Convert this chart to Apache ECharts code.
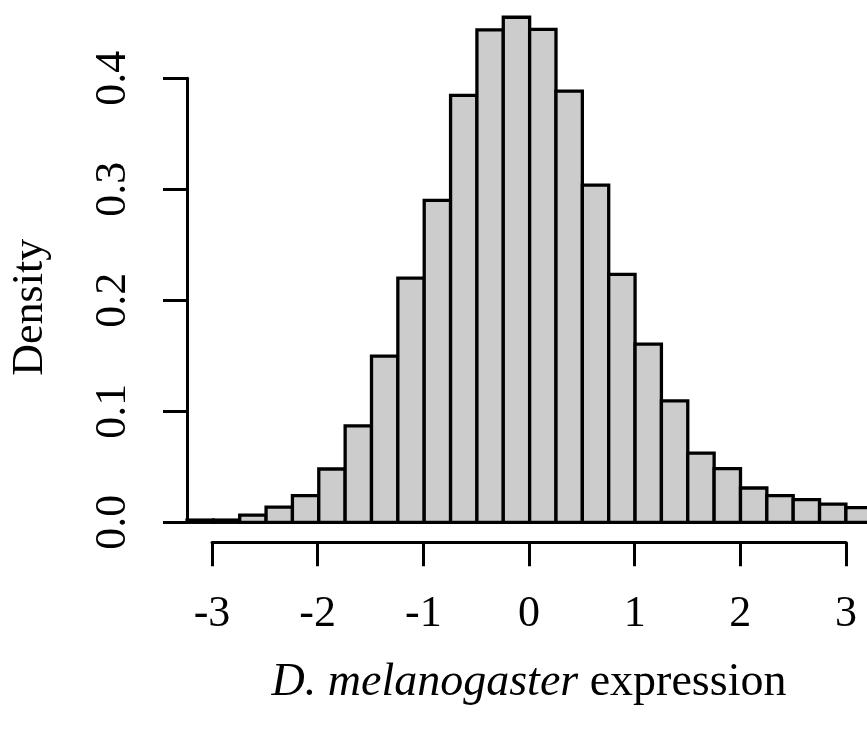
<!DOCTYPE html>
<html>
<head>
<meta charset="utf-8">
<script src="https://cdn.jsdelivr.net/npm/echarts@6/dist/echarts.min.js"></script>
<style>
html,body{margin:0;padding:0;background:#fff;}
#chart{width:867px;height:733px;}
</style>
</head>
<body>
<div id="chart"></div>
<script>
// Histogram bins (left and right edges) and densities
const binLeft  = [-3.25,-3.0,-2.75,-2.5,-2.25,-2.0,-1.75,-1.5,-1.25,-1.0,-0.75,-0.5,-0.25,0.0,0.25,0.5,0.75,1.0,1.25,1.5,1.75,2.0,2.25,2.5,2.75,3.0];
const binRight = [-3.0,-2.75,-2.5,-2.25,-2.0,-1.75,-1.5,-1.25,-1.0,-0.75,-0.5,-0.25,0.0,0.25,0.5,0.75,1.0,1.25,1.5,1.75,2.0,2.25,2.5,2.75,3.0,3.25];
const density  = [0.002,0.002,0.0065,0.0136,0.0241,0.048,0.0868,0.1497,0.220,0.290,0.3847,0.4436,0.455,0.444,0.3884,0.3038,0.2234,0.1605,0.1094,0.0623,0.0483,0.0309,0.0241,0.0204,0.0164,0.0132];
const xTicks = ['-3','-2','-1','0','1','2','3'];
const yTicks = ['0.0','0.1','0.2','0.3','0.4'];
const xTitleItalic = 'D. melanogaster';
const xTitleRest = ' expression';
const yTitle = 'Density';

const FONT = 'Liberation Serif';
const FS = 44;

const data = binLeft.map((l, i) => [l, binRight[i], density[i]]);

const chart = echarts.init(document.getElementById('chart'), null, {renderer: 'canvas'});
chart.setOption({
  backgroundColor: '#ffffff',
  animation: false,
  textStyle: {fontFamily: FONT, color: '#000'},
  grid: [
    {left: 187, right: 0, top: 78.3, bottom: 210.7},
    {left: 212, right: 21, top: 78.3, bottom: 190.7}
  ],
  xAxis: [
    {gridIndex: 0, type: 'value', min: -3.25, max: 3.2, show: false},
    {
      gridIndex: 1, type: 'value', min: -3, max: 3, interval: 1,
      position: 'bottom',
      axisLine: {show: true, onZero: false, lineStyle: {color: '#000', width: 3}},
      axisTick: {show: true, inside: false, length: 24, lineStyle: {color: '#000', width: 3}},
      splitLine: {show: false},
      axisLabel: {
        show: true, margin: 50, fontFamily: FONT, fontSize: FS, color: '#000',
        formatter: (v) => xTicks[Math.round(v) + 3]
      },
      name: '{i|' + xTitleItalic + '}' + xTitleRest,
      nameLocation: 'middle',
      nameGap: 118,
      nameTextStyle: {
        fontFamily: FONT, fontSize: 46, color: '#000',
        rich: {i: {fontFamily: FONT, fontSize: 46, fontStyle: 'italic', color: '#000'}}
      }
    }
  ],
  yAxis: [
    {
      gridIndex: 0, type: 'value', min: 0, max: 0.4, interval: 0.1,
      position: 'left',
      axisLine: {show: true, onZero: false, lineStyle: {color: '#000', width: 3}},
      axisTick: {show: true, inside: false, length: 24, lineStyle: {color: '#000', width: 3}},
      splitLine: {show: false},
      axisLabel: {
        show: true, rotate: 90, margin: 52, fontFamily: FONT, fontSize: FS, color: '#000',
        formatter: (v) => yTicks[Math.round(v * 10)]
      },
      name: yTitle,
      nameLocation: 'middle',
      nameGap: 135,
      nameRotate: 90,
      nameTextStyle: {fontFamily: FONT, fontSize: FS, color: '#000', padding: [0, 14, 0, 0]}
    },
    {gridIndex: 1, type: 'value', show: false}
  ],
  series: [{
    type: 'custom',
    xAxisIndex: 0, yAxisIndex: 0,
    clip: false,
    z: 1,
    data: data,
    renderItem: function (params, api) {
      const p0 = api.coord([api.value(0), api.value(2)]);
      const p1 = api.coord([api.value(1), 0]);
      return {
        type: 'rect',
        shape: {x: p0[0], y: p0[1], width: p1[0] - p0[0], height: p1[1] - p0[1]},
        style: {fill: '#cccccc', stroke: '#000', lineWidth: 3.3}
      };
    }
  }]
});
</script>
</body>
</html>
